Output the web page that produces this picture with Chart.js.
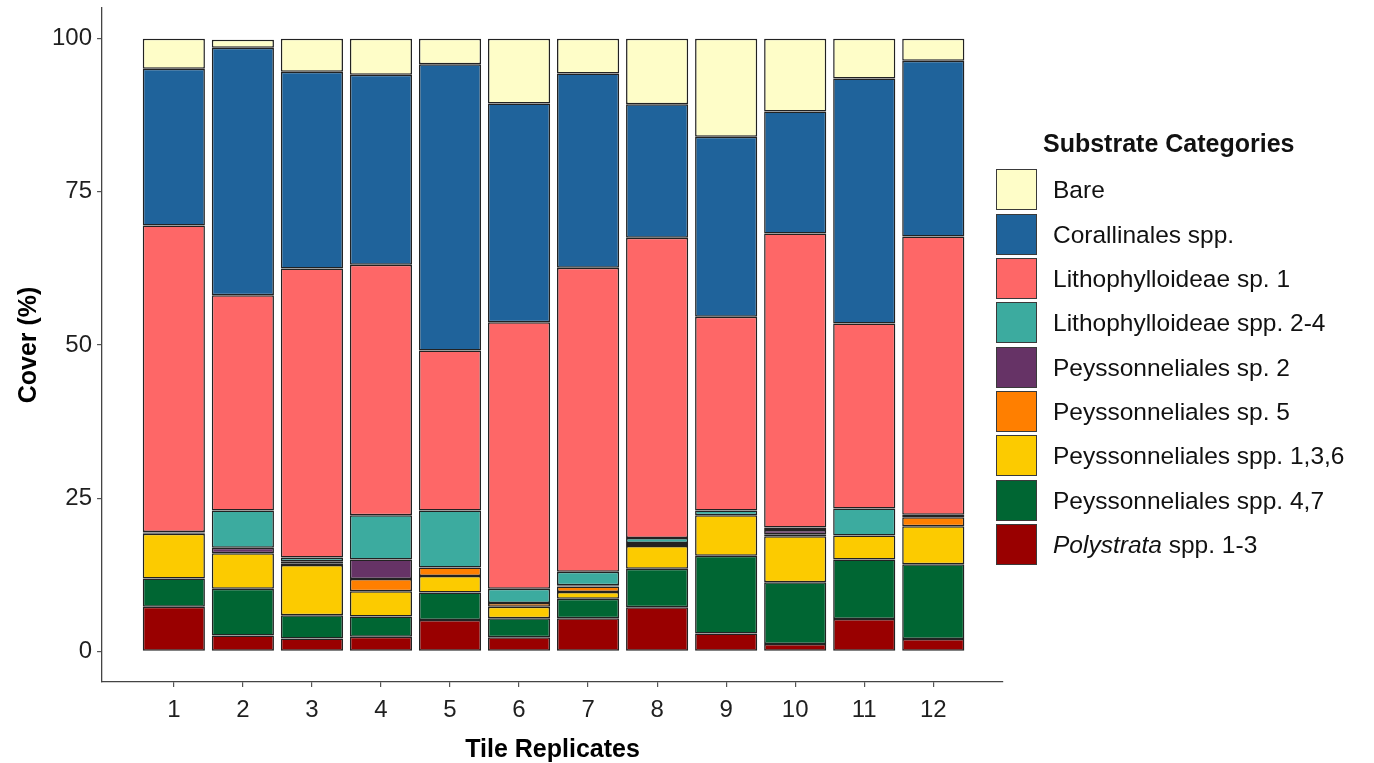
<!DOCTYPE html>
<html>
<head>
<meta charset="utf-8">
<script src="https://cdn.jsdelivr.net/npm/chart.js@4.4.1/dist/chart.umd.min.js"></script>
<style>
  html, body { margin: 0; padding: 0; background: #ffffff; }
  #wrap { position: relative; width: 1374px; height: 763px; }
  #c { position: absolute; left: 0; top: 0; }
  #legend { position: absolute; left: 0; top: 0; width: 1374px; height: 763px; pointer-events: none;
            font-family: "Liberation Sans", Arial, sans-serif; color: #111; }
  .ltitle { position: absolute; left: 1043px; top: 128px; font-weight: bold; font-size: 25px; line-height: 30px; white-space: nowrap; }
  .lbox { position: absolute; left: 996px; width: 39px; height: 39px; border: 1.2px solid #3a3a3a; box-sizing: content-box; }
  .ltext { position: absolute; left: 1053px; font-size: 24.5px; line-height: 41px; height: 41px; white-space: nowrap; }
</style>
</head>
<body>
<div id="wrap">
  <canvas id="c" width="1374" height="763"></canvas>
  <div id="legend"></div>
</div>
<script>
// ---- data ----
const categories = ['1','2','3','4','5','6','7','8','9','10','11','12'];
const yTicks = [0, 25, 50, 75, 100];

// stacked bottom -> top
const polystrata   = [7.3, 2.6, 2.1, 2.4, 5.1, 2.3, 5.4, 7.2, 2.9, 1.2, 5.3, 2.0];
const peys47       = [4.6, 7.6, 3.8, 3.3, 4.5, 3.1, 3.2, 6.3, 12.7, 10.1, 9.7, 12.2];
const peys136      = [7.3, 5.8, 8.2, 4.1, 2.7, 1.9, 1.1, 3.7, 6.6, 7.5, 3.9, 6.2];
const peys5        = [0.2, 0, 0.2, 2.0, 1.4, 0.6, 0.9, 0, 0, 0.3, 0, 1.5];
const peys2        = [0.1, 0.9, 0.4, 3.2, 0, 0, 0.2, 0.5, 0, 0.7, 0, 0.4];
const litho24      = [0, 6.1, 0.6, 7.2, 9.3, 2.3, 2.2, 0.8, 0.8, 0.4, 4.4, 0];
const litho1       = [50.0, 35.1, 47.2, 40.9, 26.1, 43.5, 49.6, 49.0, 31.6, 48.0, 30.2, 45.4];
const corallinales = [25.6, 40.4, 32.1, 31.0, 46.7, 35.7, 31.7, 21.8, 29.4, 19.9, 40.0, 28.7];
const bare         = [4.9, 1.3, 5.4, 5.9, 4.2, 10.6, 5.7, 10.7, 16.0, 11.9, 6.5, 3.6];

const seriesNames = ['Polystrata spp. 1-3', 'Peyssonneliales spp. 4,7', 'Peyssonneliales spp. 1,3,6',
  'Peyssonneliales sp. 5', 'Peyssonneliales sp. 2', 'Lithophylloideae spp. 2-4',
  'Lithophylloideae sp. 1', 'Corallinales spp.', 'Bare'];
const seriesValues = [polystrata, peys47, peys136, peys5, peys2, litho24, litho1, corallinales, bare];
const seriesColors = ['#990000', '#006633', '#fccb00', '#ff7f00', '#663366', '#3cab9f',
  '#fe6767', '#1f639b', '#fefdc8'];

const FONT = '"Liberation Sans", Arial, sans-serif';

const datasets = seriesNames.map((name, i) => ({
  label: name,
  data: seriesValues[i].map((v, j) => ({ x: j + 1, y: v })),
  backgroundColor: seriesColors[i],
  borderColor: '#222222',
  borderWidth: (ctx) => (ctx.raw && ctx.raw.y > 0 ? 1.5 : 0),
  borderSkipped: false,
  categoryPercentage: 1.0,
  barPercentage: 0.9
}));

const zeroPad = (s) => { s.paddingTop = 0; s.paddingBottom = 0; s.paddingLeft = 0; s.paddingRight = 0; };

new Chart(document.getElementById('c'), {
  type: 'bar',
  data: { datasets },
  options: {
    responsive: false,
    animation: false,
    events: [],
    layout: { padding: { left: 14, right: 371, top: 8, bottom: 0 } },
    plugins: { legend: { display: false }, tooltip: { enabled: false } },
    scales: {
      x: {
        type: 'linear',
        stacked: true,
        min: -0.04,
        max: 13.01,
        offset: false,
        afterBuildTicks: (s) => { s.ticks = categories.map((c, i) => ({ value: i + 1 })); },
        afterFit: (s) => { zeroPad(s); s.height = 81; },
        ticks: {
          autoSkip: false,
          maxRotation: 0,
          padding: 9,
          color: '#1f1f1f',
          font: { family: FONT, size: 24 },
          callback: (v) => categories[v - 1]
        },
        grid: { display: true, offset: false, drawOnChartArea: false, drawTicks: true, tickLength: 5, color: '#555555', lineWidth: 1.2 },
        border: { display: true, color: '#444444', width: 1.3 },
        title: { display: true, text: 'Tile Replicates', color: '#000000',
                 font: { family: FONT, size: 25, weight: 'bold' }, padding: { top: 3, bottom: -2 } }
      },
      y: {
        type: 'linear',
        stacked: true,
        min: -5,
        max: 105,
        afterBuildTicks: (s) => { s.ticks = yTicks.map(v => ({ value: v })); },
        afterFit: zeroPad,
        ticks: {
          padding: 5,
          color: '#1f1f1f',
          font: { family: FONT, size: 24 }
        },
        grid: { display: true, offset: false, drawOnChartArea: false, drawTicks: true, tickLength: 5, color: '#555555', lineWidth: 1.2 },
        border: { display: true, color: '#444444', width: 1.3 },
        title: { display: true, text: 'Cover (%)', color: '#000000',
                 font: { family: FONT, size: 25, weight: 'bold' }, padding: { top: 0, bottom: 3 } }
      }
    }
  }
});

// ---- HTML legend (top -> bottom) ----
const legend = document.getElementById('legend');
const t = document.createElement('div');
t.className = 'ltitle';
t.textContent = 'Substrate Categories';
legend.appendChild(t);
const order = seriesNames.map((n, i) => i).reverse();
order.forEach((si, k) => {
  const top = 169.3 + k * 44.33;
  const b = document.createElement('div');
  b.className = 'lbox';
  b.style.top = top + 'px';
  b.style.background = seriesColors[si];
  legend.appendChild(b);
  const tx = document.createElement('div');
  tx.className = 'ltext';
  tx.style.top = top + 'px';
  const name = seriesNames[si];
  if (name.startsWith('Polystrata')) {
    const it = document.createElement('i');
    it.textContent = 'Polystrata';
    tx.appendChild(it);
    tx.appendChild(document.createTextNode(name.slice('Polystrata'.length)));
  } else {
    tx.textContent = name;
  }
  legend.appendChild(tx);
});
</script>
</body>
</html>
